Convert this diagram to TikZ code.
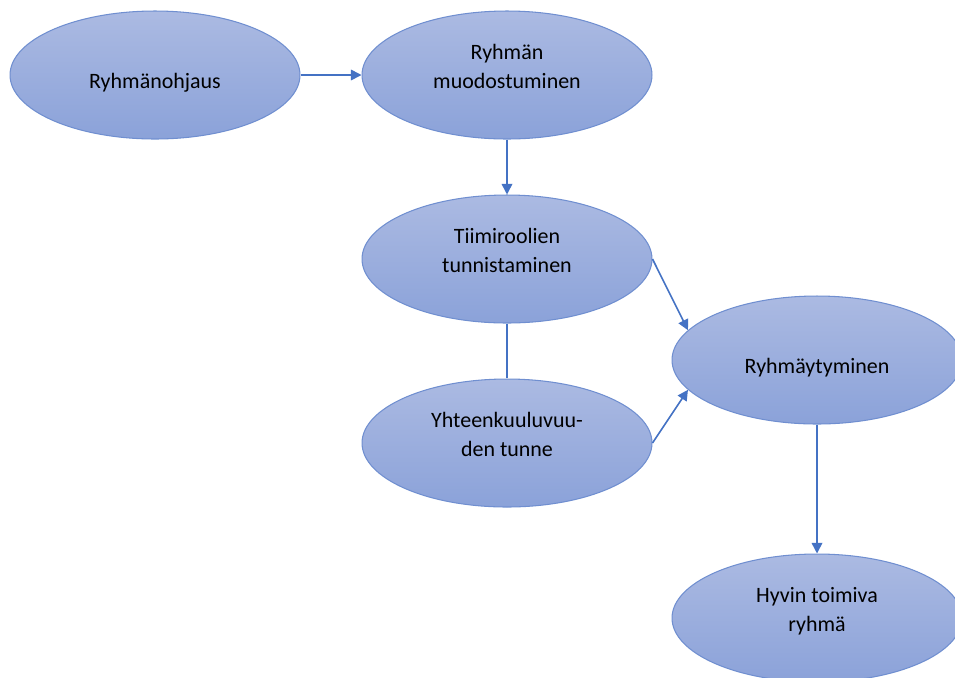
\documentclass[tikz,border=0pt]{standalone}
\usepackage{fontspec}
\setmainfont{Carlito}
\usetikzlibrary{shapes.geometric,arrows.meta}
\definecolor{ovaltop}{RGB}{171,186,226}
\definecolor{ovalbottom}{RGB}{139,162,217}
\definecolor{ovalline}{RGB}{112,143,208}
\definecolor{arrowblue}{RGB}{68,114,196}
\tikzset{
  oval/.style={ellipse, draw=ovalline, line width=0.6pt, top color=ovaltop,
    bottom color=ovalbottom, minimum width=5.8cm, minimum height=2.56cm,
    inner sep=0pt, align=center, font=\fontsize{12.5}{16.3}\selectfont,
    text height=0.52cm, text depth=0pt},
  link/.style={draw=arrowblue, line width=0.9pt},
  flow/.style={link, -{Triangle[length=6pt,width=6pt]}}
}
\begin{document}
\begin{tikzpicture}[x=0.02cm,y=-0.02cm]
  % page is 955 x 677 px, y grows downwards
  \useasboundingbox (0,0) rectangle (955,677);
  \fill[white] (0,0) rectangle (955,677);
  \clip (0,0) rectangle (955,677);

  % the ovals
  \node[oval] (ohjaus)  at (155,75)  {Ryhmänohjaus};
  \node[oval] (muodos)  at (507,75)  {Ryhmän\\muodostuminen};
  \node[oval] (tiimi)   at (507,259) {Tiimiroolien\\tunnistaminen};
  \node[oval] (yhteen)  at (507,443) {Yhteenkuuluvuu-\\den tunne};
  \node[oval] (ryhmay)  at (817,360) {Ryhmäytyminen};
  \node[oval] (toimiva) at (817,618) {Hyvin toimiva\\ryhmä};

  % connectors
  \draw[flow] (ohjaus.east) -- (muodos.west);
  \draw[flow] (muodos.south) -- (tiimi.north);
  \draw[link] (tiimi.south) -- (yhteen.north); % no arrow head here
  \draw[flow] (tiimi.east) -- (ryhmay.167);
  \draw[flow] (yhteen.east) -- (ryhmay.193);
  \draw[flow] (ryhmay.south) -- (toimiva.north);
\end{tikzpicture}
\end{document}
